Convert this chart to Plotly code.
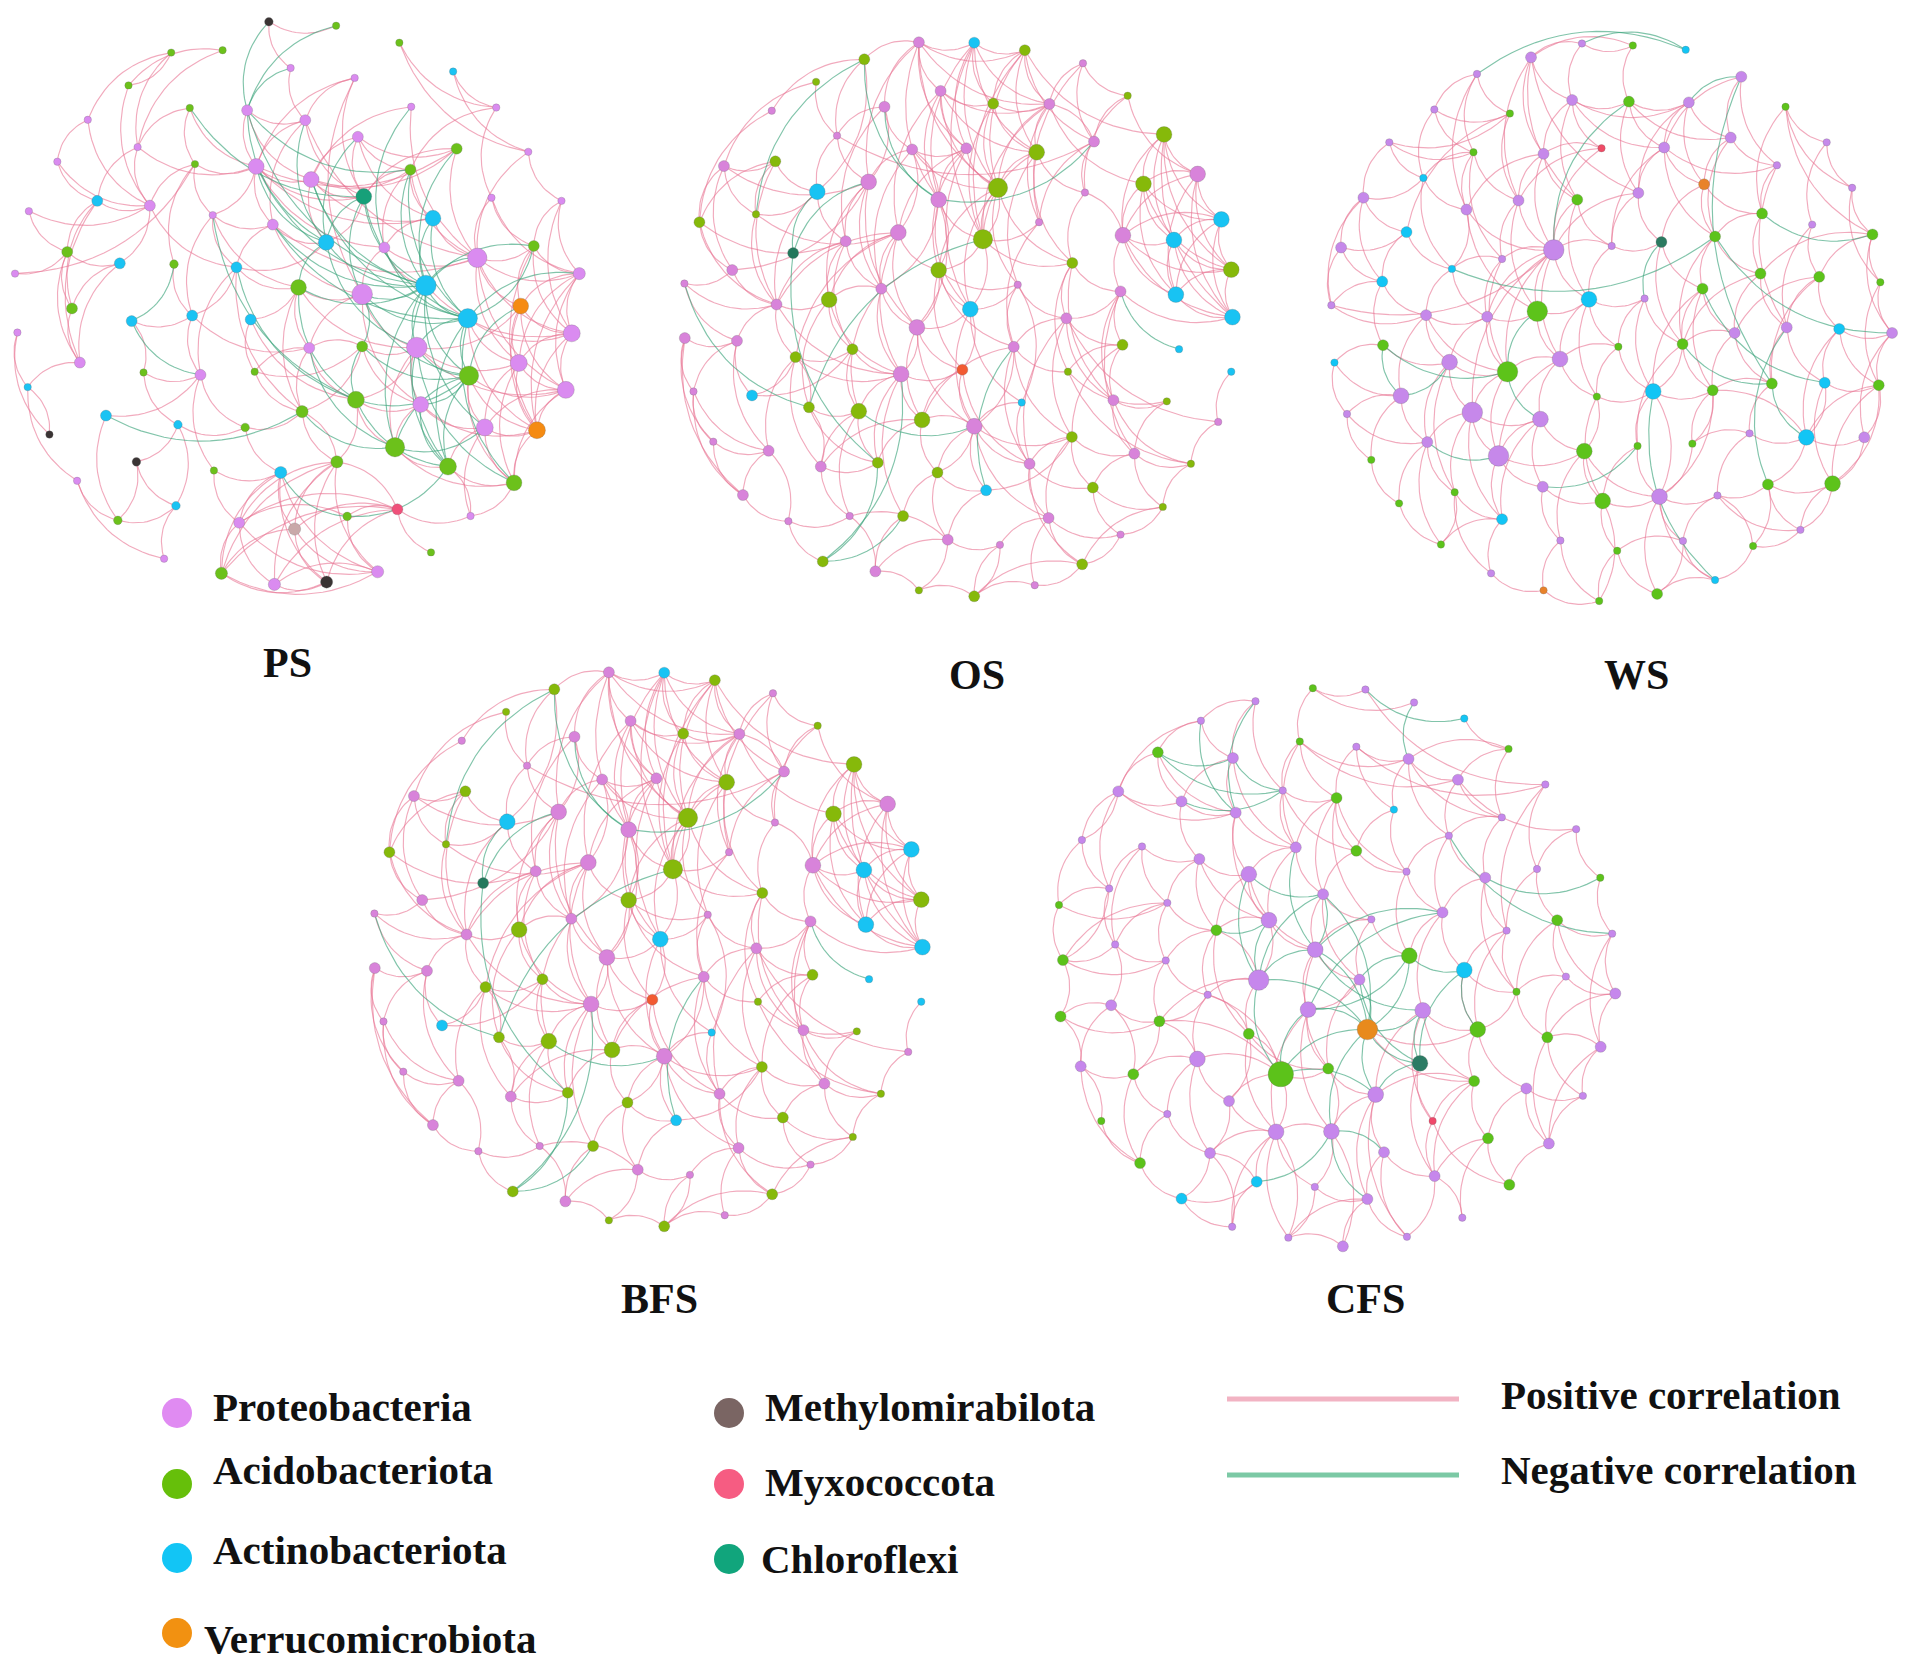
import numpy as np
import plotly.graph_objects as go

# node coordinates are layout units of each network panel (0..1568 across the panel box)
# phylum codes: P Proteobacteria, A Acidobacteriota, C Actinobacteriota, V Verrucomicrobiota,
# M Methylomirabilota, X Myxococcota, F Chloroflexi, W unassigned
# node ids in the edge lists start at 1

ps_x = [680, 850, 1010, 433, 563, 735, 1146, 325, 897, 222,
        480, 625, 1040, 1255, 772, 348, 905, 1155, 145, 493,
        1336, 648, 787, 1038, 920, 1243, 1420, 246, 379, 73,
        538, 1095, 690, 825, 972, 1207, 1350, 170, 303, 440,
        598, 38, 1465, 755, 916, 1077, 1317, 182, 333, 486,
        634, 1183, 44, 1446, 916, 782, 1054, 1312, 202, 363,
        507, 644, 1186, 70, 1431, 900, 764, 1064, 268, 450,
        620, 1226, 1358, 125, 999, 852, 1133, 345, 541, 710,
        1300, 195, 445, 1005, 878, 1190, 298, 605, 745, 1090,
        415, 560, 955, 694, 826]
ps_y = [55, 65, 108, 133, 127, 172, 181, 216, 197, 303,
        273, 279, 270, 272, 304, 372, 346, 376, 409, 415,
        384, 421, 454, 429, 497, 500, 508, 508, 520, 534,
        544, 552, 568, 613, 626, 652, 622, 637, 666, 668,
        676, 692, 692, 727, 744, 722, 774, 780, 812, 798,
        808, 805, 841, 843, 876, 880, 879, 918, 917, 942,
        948, 940, 950, 979, 986, 1011, 1041, 1023, 1051, 1074,
        1081, 1081, 1088, 1099, 1131, 1168, 1180, 1168, 1190, 1195,
        1221, 1216, 1279, 1288, 1306, 1305, 1316, 1322, 1338, 1397,
        1413, 1450, 1446, 1478, 1472]
ps_phylum = list("MAAAAPCAPP" "APPPPPPAPA" "PPPAFPPCPP" "PCPCPPAACA" "CPPAPCVACC"
                 "CCPPAPPPPA" "PAACPAAPCC" "APVMAAAMAC" "APCXAPAPWA" "PAPPM")
ps_degree = [3, 2, 2, 2, 2, 2, 2, 2, 2, 2,
             2, 5, 2, 2, 5, 2, 5, 5, 2, 2,
             2, 9, 9, 5, 9, 2, 2, 5, 5, 2,
             2, 9, 5, 9, 5, 12, 5, 5, 5, 3,
             5, 2, 6, 9, 13, 13, 9, 5, 5, 5,
             5, 12, 2, 10, 5, 5, 13, 10, 5, 2,
             5, 2, 12, 2, 10, 10, 6, 9, 5, 3,
             3, 10, 10, 2, 12, 6, 10, 3, 2, 6,
             9, 2, 3, 5, 3, 2, 3, 5, 6, 2,
             2, 6, 6, 6, 6]
ps_pos = [(1, 2), (1, 6), (3, 21), (3, 14), (7, 14), (7, 21), (4, 10), (4, 16), (5, 16), (5, 8),
          (8, 29), (10, 19), (10, 29), (16, 29), (19, 29), (20, 29), (30, 29), (28, 29), (28, 38), (28, 48),
          (28, 59), (38, 39), (38, 48), (38, 59), (39, 48), (39, 29), (39, 59), (48, 59), (42, 20), (53, 74),
          (59, 64), (64, 82), (82, 91), (87, 78), (87, 83), (78, 83), (69, 87), (69, 61), (78, 70), (83, 70),
          (9, 22), (9, 25), (9, 45), (6, 15), (15, 22), (15, 25), (15, 36), (15, 33), (17, 25), (17, 18),
          (17, 23), (22, 23), (22, 25), (22, 32), (22, 35), (22, 18), (23, 25), (23, 18), (23, 24), (23, 32),
          (24, 32), (24, 36), (26, 36), (26, 43), (33, 45), (33, 36), (34, 25), (35, 46), (35, 36), (36, 37),
          (36, 43), (36, 54), (36, 47), (36, 58), (36, 65), (37, 47), (37, 54), (37, 73), (43, 54), (43, 65),
          (43, 73), (47, 54), (47, 58), (47, 65), (47, 73), (52, 54), (52, 58), (52, 73), (54, 58), (54, 65),
          (54, 73), (57, 58), (57, 65), (57, 47), (58, 65), (58, 72), (58, 73), (63, 65), (63, 73), (63, 81),
          (65, 72), (65, 73), (65, 81), (72, 73), (72, 77), (72, 81), (73, 81), (68, 72), (68, 73), (66, 68),
          (66, 75), (66, 57), (75, 77), (75, 81), (77, 81), (57, 75), (45, 57), (31, 33), (31, 41), (31, 44),
          (41, 44), (41, 34), (44, 45), (44, 56), (56, 67), (56, 66), (40, 50), (50, 41), (20, 31), (20, 22),
          (31, 22), (12, 22), (12, 23), (13, 23), (13, 36), (18, 36), (18, 25), (21, 36), (27, 43), (27, 54),
          (43, 58), (49, 50), (50, 61), (51, 44), (51, 66), (62, 55), (56, 62), (71, 67), (71, 80), (67, 76),
          (67, 55), (61, 79), (79, 80), (60, 61), (60, 49), (41, 67), (33, 34), (23, 34), (45, 68), (68, 75),
          (55, 68), (57, 68), (63, 72), (46, 54), (35, 45), (29, 41), (11, 22), (16, 22), (50, 56), (44, 57),
          (80, 88), (80, 89), (80, 92), (80, 93), (80, 95), (76, 88), (76, 92), (76, 93), (76, 94), (76, 95),
          (76, 89), (84, 88), (84, 92), (84, 94), (84, 95), (84, 89), (88, 92), (88, 93), (88, 94), (89, 92),
          (89, 95), (89, 93), (92, 93), (92, 95), (93, 94), (94, 95), (84, 86), (84, 90), (86, 81), (86, 77),
          (76, 66), (76, 67), (85, 88), (85, 93), (79, 88), (22, 33), (12, 15), (9, 15), (17, 24), (17, 32),
          (24, 35), (24, 25), (32, 36), (32, 35), (26, 37), (21, 27), (14, 26), (14, 24), (27, 37), (43, 47),
          (37, 43), (58, 81), (72, 86), (84, 76), (84, 85), (44, 67), (55, 56), (55, 57), (51, 62), (41, 61),
          (61, 71), (60, 70), (70, 71), (62, 67), (45, 56), (33, 41), (31, 50), (20, 40), (11, 20), (11, 16),
          (8, 4), (16, 28), (19, 28), (30, 38), (42, 38), (53, 64), (74, 64), (82, 87), (83, 91)]
ps_neg = [(2, 12), (1, 12), (6, 12), (11, 25), (12, 24), (13, 35), (12, 34), (12, 46), (25, 34), (25, 45),
          (25, 46), (25, 52), (34, 44), (34, 46), (34, 57), (32, 46), (32, 52), (45, 46), (45, 52), (46, 52),
          (46, 57), (46, 63), (46, 75), (46, 77), (46, 72), (52, 57), (52, 63), (52, 77), (52, 81), (57, 63),
          (57, 77), (63, 77), (63, 75), (55, 66), (55, 45), (66, 63), (68, 63), (68, 77), (43, 52), (37, 46),
          (31, 66), (69, 67), (80, 85), (85, 77), (49, 40), (49, 61), (23, 46), (33, 46), (24, 46), (17, 34),
          (15, 34), (44, 66), (75, 72), (52, 37), (47, 63), (57, 81), (22, 34), (22, 46), (23, 52), (44, 46),
          (45, 63), (36, 46), (35, 52), (18, 46), (24, 52), (66, 77), (67, 75), (55, 63), (41, 66), (56, 75),
          (33, 52)]

os_x = [680, 820, 948, 542, 1095, 420, 735, 868, 1208, 1010,
        593, 308, 473, 663, 800, 1300, 1123, 978, 187, 317,
        1385, 553, 423, 880, 1248, 730, 1100, 268, 125, 984,
        1445, 628, 495, 842, 1196, 1325, 362, 208, 730, 1068,
        1470, 87, 585, 930, 1190, 1330, 320, 453, 810, 1053,
        1473, 675, 88, 220, 920, 1195, 368, 512, 1338, 635,
        790, 1057, 1470, 110, 258, 940, 1172, 1307, 402, 528,
        688, 820, 1437, 1067, 160, 300, 1225, 432, 576, 727,
        960, 1368, 1120, 850, 235, 1297, 350, 505, 640, 1008,
        753, 885, 1190, 437, 570, 1093, 680, 973, 820]
os_y = [107, 108, 127, 150, 160, 207, 230, 262, 242, 263,
        270, 280, 343, 378, 375, 340, 358, 385, 420, 408,
        440, 460, 485, 475, 465, 505, 487, 542, 562, 562,
        555, 588, 610, 605, 595, 607, 640, 683, 683, 665,
        682, 717, 730, 720, 737, 745, 770, 758, 782, 805,
        802, 828, 855, 862, 877, 872, 903, 883, 883, 946,
        935, 940, 940, 990, 1000, 1018, 1012, 1015, 1030, 1040,
        1062, 1078, 1067, 1105, 1117, 1140, 1147, 1180, 1170, 1195,
        1173, 1173, 1233, 1240, 1252, 1282, 1318, 1305, 1305, 1310,
        1365, 1378, 1352, 1420, 1445, 1427, 1493, 1480, 1508]
os_phylum = list("PCAAPAPAAP" "PPPPPAPAPA" "PPCAAPPAAP" "CPPAPCFPAA" "APPPPCPACP"
                 "CPPPPAAACP" "XACPCCPAAA" "APPAPPPPAA" "PAACPAPPAP" "PPPAPAAPA")
os_degree = [5, 5, 5, 5, 2, 2, 5, 5, 2, 5,
             5, 2, 2, 5, 5, 9, 5, 9, 5, 5,
             9, 9, 9, 12, 9, 9, 2, 2, 5, 2,
             9, 9, 5, 12, 9, 9, 5, 5, 9, 5,
             9, 2, 5, 2, 5, 9, 5, 9, 9, 5,
             9, 9, 5, 5, 5, 5, 5, 5, 2, 9,
             5, 2, 2, 2, 5, 2, 5, 2, 5, 9,
             9, 9, 2, 5, 2, 5, 5, 5, 5, 5,
             5, 2, 5, 5, 5, 2, 2, 2, 5, 5,
             5, 2, 2, 5, 5, 5, 2, 2, 5]
os_pos = [(1, 2), (1, 3), (1, 7), (1, 10), (1, 11), (1, 15), (1, 24), (1, 4), (2, 3), (2, 8),
          (2, 10), (2, 15), (2, 18), (2, 24), (2, 34), (3, 10), (3, 18), (3, 24), (3, 34), (3, 8),
          (7, 8), (7, 15), (7, 24), (7, 10), (8, 10), (8, 24), (8, 18), (10, 24), (10, 18), (10, 34),
          (14, 15), (14, 24), (14, 22), (15, 24), (15, 26), (18, 24), (18, 34), (24, 34), (7, 18), (11, 14),
          (11, 13), (13, 17), (13, 22), (5, 17), (5, 30), (9, 17), (9, 27), (17, 27), (17, 10), (4, 12),
          (4, 13), (6, 19), (16, 21), (16, 25), (16, 31), (16, 41), (16, 51), (16, 36), (21, 25), (21, 31),
          (21, 35), (21, 41), (21, 51), (21, 46), (25, 31), (25, 35), (25, 36), (25, 46), (25, 41), (31, 35),
          (31, 36), (31, 41), (31, 46), (31, 51), (35, 36), (35, 41), (35, 46), (35, 51), (36, 41), (36, 46),
          (36, 51), (41, 46), (41, 51), (46, 51), (16, 35), (35, 27), (35, 45), (45, 51), (19, 20), (19, 29),
          (19, 38), (19, 22), (20, 23), (20, 29), (20, 47), (29, 38), (29, 47), (29, 33), (38, 47), (38, 22),
          (23, 33), (23, 47), (28, 47), (28, 32), (22, 33), (22, 43), (22, 48), (33, 43), (33, 48), (32, 43),
          (32, 39), (32, 52), (32, 48), (32, 14), (43, 48), (43, 52), (47, 48), (47, 57), (47, 54), (47, 60),
          (53, 54), (53, 64), (53, 75), (53, 85), (54, 64), (54, 76), (54, 65), (64, 76), (64, 75), (75, 76),
          (75, 85), (76, 85), (65, 57), (65, 58), (57, 60), (57, 58), (58, 60), (58, 70), (60, 61), (60, 70),
          (60, 71), (60, 52), (60, 79), (60, 89), (61, 71), (61, 72), (61, 49), (52, 39), (52, 26), (52, 49),
          (39, 26), (39, 49), (39, 34), (26, 14), (49, 34), (49, 44), (44, 55), (34, 24), (34, 40), (34, 30),
          (40, 45), (40, 50), (50, 45), (50, 55), (50, 56), (50, 67), (45, 56), (56, 67), (56, 62), (62, 68),
          (67, 68), (67, 77), (67, 82), (55, 81), (55, 62), (55, 71), (72, 81), (72, 74), (72, 71), (72, 80),
          (71, 80), (71, 79), (71, 78), (78, 79), (78, 88), (78, 69), (69, 70), (69, 57), (69, 79), (70, 79),
          (74, 81), (74, 83), (74, 77), (74, 90), (77, 83), (77, 86), (77, 82), (81, 90), (81, 96), (81, 83),
          (83, 86), (83, 93), (90, 96), (90, 98), (90, 93), (96, 93), (91, 88), (91, 95), (91, 92), (92, 99),
          (99, 97), (97, 95), (95, 88), (80, 89), (80, 72), (84, 91), (84, 74), (66, 44), (66, 72), (42, 47),
          (43, 26), (22, 11), (23, 4), (24, 44), (26, 34), (32, 60), (52, 71), (72, 55), (63, 73), (50, 73),
          (62, 82), (87, 76), (57, 78), (96, 99), (98, 99), (90, 92), (86, 96), (3, 17), (15, 49), (8, 34),
          (18, 44), (14, 43), (39, 44), (33, 47), (28, 23), (1, 22), (1, 26), (2, 26), (3, 16), (7, 26),
          (7, 32), (10, 25), (10, 30), (15, 39), (15, 32), (18, 27), (18, 40), (24, 39), (24, 40), (24, 49),
          (26, 49), (32, 47), (32, 57), (22, 52), (33, 58), (43, 60), (43, 70), (48, 58), (48, 69), (48, 60),
          (39, 61), (39, 55), (49, 72), (49, 66), (44, 50), (30, 55), (40, 62), (40, 67), (45, 67), (45, 77),
          (50, 74), (50, 81), (56, 74), (55, 74), (66, 81), (61, 81), (72, 90), (72, 84), (80, 91), (80, 84),
          (89, 95), (70, 78), (70, 88), (57, 76), (52, 72), (52, 61), (11, 33), (13, 23), (12, 29), (20, 28),
          (17, 30), (27, 40), (9, 21), (5, 10), (5, 9), (6, 13), (19, 28), (42, 54), (42, 38), (64, 85),
          (85, 87), (87, 94), (87, 88), (97, 91), (99, 92), (98, 96), (93, 86), (82, 86), (73, 82), (68, 77)]
os_neg = [(4, 28), (4, 26), (11, 26), (26, 17), (23, 37), (22, 37), (42, 69), (37, 79), (34, 69), (70, 72),
          (45, 59), (55, 84), (94, 89), (94, 60), (94, 79)]

# the BFS network is drawn with the same layout and links as OS in the source figure
bfs_x, bfs_y, bfs_phylum, bfs_degree = os_x, os_y, os_phylum, os_degree
bfs_pos, bfs_neg = os_pos, os_neg

ws_x = [720, 850, 985, 590, 452, 1127, 695, 840, 993, 343,
        536, 1240, 228, 443, 770, 930, 1100, 1345, 622, 315,
        1218, 1032, 1410, 162, 558, 708, 864, 425, 1180, 272,
        1060, 1308, 1462, 105, 648, 796, 923, 516, 388, 210,
        1176, 1326, 1482, 1028, 738, 880, 80, 606, 322, 478,
        1110, 1243, 1377, 1512, 212, 813, 977, 88, 382, 664,
        530, 1205, 1340, 1478, 258, 758, 902, 1054, 120, 440,
        614, 1148, 1293, 1441, 325, 1002, 862, 182, 507, 726,
        620, 1195, 1360, 395, 918, 773, 1066, 253, 516, 1278,
        665, 810, 978, 1157, 360, 488, 1060, 622, 912, 764]
ws_y = [110, 115, 126, 145, 187, 194, 253, 257, 259, 277,
        287, 270, 360, 385, 375, 373, 348, 360, 389, 450,
        418, 466, 475, 500, 507, 505, 488, 530, 540, 587,
        598, 568, 593, 626, 632, 622, 612, 655, 680, 712,
        692, 700, 714, 730, 757, 755, 772, 787, 797, 801,
        842, 828, 832, 842, 873, 877, 870, 917, 916, 908,
        940, 970, 968, 974, 1001, 1003, 990, 987, 1047, 1043,
        1060, 1096, 1106, 1106, 1118, 1122, 1128, 1163, 1153, 1141,
        1231, 1225, 1223, 1245, 1256, 1267, 1253, 1273, 1313, 1340,
        1367, 1393, 1368, 1381, 1377, 1450, 1467, 1493, 1502, 1520]
ws_phylum = list("PACPPPPAPP" "AAPAXPPPPC" "PVPPPAPPAC" "APAPPPFPCC" "AAAACPPAPP"
                 "PPCPAAACPP" "AACAPACAPP" "PPCPPAAAPA" "PAAAPAPACP" "PAPAAPCVAA")
ws_degree = [2, 2, 2, 5, 2, 5, 5, 5, 5, 2,
             2, 2, 2, 2, 2, 5, 5, 2, 5, 2,
             2, 5, 2, 5, 5, 5, 5, 5, 5, 5,
             5, 2, 5, 5, 13, 2, 5, 2, 2, 5,
             5, 5, 2, 5, 9, 2, 2, 13, 5, 5,
             5, 5, 5, 5, 5, 2, 5, 2, 9, 9,
             13, 5, 5, 5, 9, 2, 9, 5, 2, 13,
             9, 2, 9, 5, 5, 2, 2, 2, 13, 9,
             5, 5, 9, 2, 9, 9, 2, 2, 5, 2,
             2, 2, 2, 2, 2, 2, 2, 2, 5, 2]
ws_pos = [(1, 4), (1, 2), (4, 7), (4, 19), (4, 27), (5, 11), (5, 14), (5, 28), (7, 8), (7, 16),
          (7, 9), (7, 26), (8, 9), (8, 16), (8, 27), (9, 17), (9, 22), (9, 16), (6, 17), (12, 23),
          (12, 33), (17, 21), (17, 22), (16, 22), (16, 21), (16, 27), (18, 23), (18, 32), (10, 11), (10, 14),
          (10, 20), (13, 11), (13, 14), (13, 20), (14, 20), (14, 28), (11, 30), (15, 19), (15, 35), (15, 25),
          (19, 35), (19, 26), (19, 25), (24, 30), (24, 34), (24, 20), (24, 40), (34, 30), (34, 40), (30, 40),
          (20, 28), (28, 35), (25, 35), (26, 35), (27, 35), (36, 35), (36, 37), (27, 37), (37, 44), (22, 29),
          (21, 29), (29, 31), (29, 41), (31, 41), (31, 44), (32, 42), (32, 52), (33, 43), (33, 54), (23, 43),
          (42, 53), (42, 52), (43, 54), (53, 54), (53, 64), (53, 63), (54, 64), (52, 63), (52, 62), (41, 51),
          (44, 51), (44, 57), (51, 57), (51, 62), (51, 68), (35, 45), (35, 48), (35, 60), (35, 61), (35, 70),
          (35, 38), (35, 50), (38, 39), (39, 49), (39, 28), (40, 49), (40, 55), (47, 49), (47, 35), (49, 59),
          (49, 65), (49, 50), (50, 61), (50, 59), (50, 48), (48, 60), (48, 45), (45, 60), (45, 56), (45, 46),
          (46, 57), (46, 56), (56, 66), (56, 60), (55, 59), (55, 58), (58, 69), (58, 65), (59, 61), (59, 70),
          (59, 75), (60, 61), (60, 71), (60, 66), (60, 79), (61, 70), (61, 79), (65, 75), (65, 78), (69, 78),
          (70, 71), (70, 79), (70, 75), (71, 79), (71, 80), (71, 81), (75, 84), (75, 88), (78, 88), (84, 89),
          (79, 89), (79, 80), (79, 81), (80, 86), (80, 66), (80, 85), (81, 86), (81, 91), (86, 92), (86, 85),
          (85, 87), (85, 93), (85, 97), (85, 99), (85, 76), (85, 67), (85, 68), (87, 82), (87, 90), (82, 83),
          (82, 73), (83, 74), (83, 90), (83, 64), (73, 74), (73, 63), (73, 68), (74, 64), (63, 64), (62, 68),
          (67, 68), (67, 57), (67, 77), (77, 86), (76, 68), (89, 96), (89, 95), (96, 98), (98, 100), (91, 100),
          (92, 99), (99, 93), (93, 97), (94, 90), (94, 87), (100, 86), (66, 67), (57, 68), (56, 67), (44, 68),
          (37, 57), (31, 57), (36, 45), (26, 45), (25, 48), (28, 48), (38, 61), (49, 61), (21, 52), (41, 52),
          (12, 29), (6, 21), (1, 7), (33, 41), (64, 83), (97, 99), (95, 84), (4, 25), (4, 26), (7, 19),
          (7, 15), (8, 17), (9, 27), (16, 36), (16, 31), (17, 31), (22, 31), (22, 37), (27, 36), (26, 36),
          (25, 38), (19, 28), (11, 25), (14, 25), (14, 38), (20, 39), (30, 39), (24, 47), (34, 47), (40, 47),
          (39, 50), (38, 50), (45, 66), (46, 67), (44, 67), (41, 57), (42, 62), (42, 51), (53, 73), (63, 83),
          (54, 74), (64, 73), (57, 77), (68, 76), (72, 76), (72, 87), (72, 73), (62, 72), (82, 90), (87, 93),
          (93, 92), (77, 85), (66, 86), (80, 91), (71, 89), (70, 84), (70, 89), (65, 69), (69, 75), (59, 84),
          (75, 95), (88, 95), (84, 96), (91, 98), (92, 100), (97, 94), (94, 82), (90, 83), (12, 18), (6, 16),
          (2, 8), (2, 4), (5, 10), (13, 24), (23, 33), (43, 64), (33, 42)]
ws_neg = [(3, 5), (3, 1), (6, 9), (6, 62), (8, 35), (29, 33), (31, 54), (39, 31), (44, 63), (62, 73),
          (55, 65), (55, 61), (65, 59), (48, 61), (61, 71), (75, 79), (81, 77), (67, 97), (37, 46), (57, 62),
          (52, 82)]

cfs_x = [690, 823, 946, 545, 1073, 407, 657, 800, 1185, 298,
         488, 932, 198, 614, 358, 1057, 1278, 750, 495, 895,
         1168, 106, 258, 1034, 1356, 647, 800, 403, 175, 528,
         927, 1126, 1257, 1417, 48, 322, 716, 1018, 579, 838,
         1308, 1180, 1447, 446, 190, 58, 696, 934, 318, 1073,
         553, 808, 1330, 1205, 1455, 424, 180, 52, 302, 678,
         968, 528, 828, 1107, 1283, 1418, 398, 103, 961, 729,
         236, 609, 1098, 849, 1230, 478, 1373, 322, 155, 993,
         597, 737, 1133, 1287, 870, 430, 253, 998, 1187, 548,
         695, 358, 828, 1068, 486, 628, 928, 766]
cfs_y = [65, 68, 98, 95, 135, 140, 188, 200, 205, 213,
         226, 228, 303, 301, 326, 276, 287, 318, 352, 345,
         363, 415, 430, 405, 390, 432, 440, 459, 527, 494,
         488, 502, 482, 502, 565, 560, 540, 582, 600, 598,
         600, 624, 631, 623, 656, 692, 668, 682, 693, 715,
         738, 737, 730, 765, 769, 772, 796, 822, 833, 806,
         808, 862, 852, 852, 870, 892, 920, 937, 930, 942,
         955, 955, 971, 1002, 988, 1017, 1005, 1047, 1063, 1063,
         1088, 1087, 1103, 1115, 1135, 1137, 1160, 1190, 1210, 1203,
         1215, 1242, 1243, 1286, 1307, 1332, 1330, 1352]
cfs_phylum = list("APPPCPAPAA" "PPPPPPPAPC" "PPPPPPAPPP" "PPPAAPPPPP" "APPAPAPAPC"
                  "PPPAPPPAAP" "PAVAAPPPFA" "AAAPPPPPAX" "PPAPPPAPAC" "PCPPPPPP")
cfs_degree = [2, 2, 2, 2, 2, 2, 2, 2, 2, 5,
              5, 5, 5, 2, 5, 5, 2, 5, 5, 2,
              2, 2, 2, 2, 2, 5, 5, 5, 2, 9,
              2, 5, 2, 2, 2, 2, 5, 5, 9, 2,
              5, 2, 2, 5, 2, 5, 9, 9, 2, 9,
              13, 5, 2, 2, 5, 2, 5, 5, 5, 9,
              9, 5, 13, 9, 5, 5, 9, 5, 9, 5,
              5, 17, 5, 9, 5, 5, 2, 2, 2, 2,
              9, 9, 5, 5, 5, 5, 5, 5, 5, 5,
              2, 5, 5, 2, 2, 2, 2, 5]
cfs_pos = [(1, 2), (1, 3), (2, 17), (8, 17), (4, 6), (4, 11), (4, 14), (6, 10), (6, 13), (6, 11),
           (10, 13), (10, 15), (11, 15), (13, 15), (13, 19), (13, 29), (10, 19), (11, 19), (7, 12), (7, 16),
           (7, 26), (8, 12), (12, 16), (12, 21), (12, 24), (16, 21), (16, 24), (16, 25), (9, 12), (9, 16),
           (21, 32), (21, 24), (24, 32), (25, 33), (25, 34), (17, 33), (17, 42), (14, 27), (14, 26), (18, 26),
           (18, 27), (18, 37), (18, 40), (18, 31), (19, 26), (19, 30), (20, 27), (22, 29), (23, 28), (23, 36),
           (23, 45), (23, 29), (26, 30), (26, 37), (27, 37), (27, 31), (28, 30), (28, 36), (28, 44), (29, 45),
           (30, 39), (30, 44), (31, 38), (32, 38), (32, 42), (33, 42), (33, 41), (34, 43), (41, 43), (41, 53),
           (41, 55), (43, 55), (42, 50), (35, 36), (36, 45), (36, 46), (46, 45), (46, 49), (46, 29), (49, 56),
           (44, 49), (44, 56), (39, 47), (39, 44), (37, 47), (38, 50), (38, 61), (40, 47), (40, 52), (47, 60),
           (47, 52), (50, 54), (50, 64), (54, 65), (53, 65), (53, 55), (55, 66), (66, 65), (66, 77), (65, 77),
           (65, 84), (64, 73), (64, 75), (75, 84), (75, 77), (84, 89), (83, 89), (83, 88), (83, 94), (73, 80),
           (73, 88), (80, 88), (80, 89), (61, 73), (61, 74), (74, 85), (74, 93), (85, 93), (85, 97), (93, 98),
           (93, 97), (98, 96), (96, 91), (91, 82), (82, 81), (81, 72), (81, 90), (81, 86), (81, 91), (82, 70),
           (72, 62), (72, 67), (72, 76), (72, 70), (72, 56), (72, 59), (67, 59), (67, 76), (67, 78), (67, 71),
           (67, 86), (71, 87), (71, 78), (71, 57), (78, 87), (87, 92), (92, 90), (92, 86), (90, 95), (95, 86),
           (86, 76), (76, 62), (62, 56), (57, 58), (58, 59), (57, 68), (68, 58), (68, 71), (59, 56), (57, 45),
           (58, 46), (79, 68), (51, 56), (51, 44), (51, 39), (51, 62), (51, 59), (60, 70), (60, 52), (61, 64),
           (97, 88), (94, 88), (98, 82), (96, 81), (74, 82), (63, 73), (63, 64), (64, 54), (20, 31), (5, 9),
           (9, 21), (1, 7), (47, 70), (52, 70), (44, 62), (36, 49), (15, 28), (22, 13), (7, 18), (7, 14),
           (8, 18), (8, 20), (12, 20), (14, 18), (11, 26), (15, 19), (13, 22), (22, 35), (29, 35), (35, 46),
           (36, 44), (28, 39), (19, 39), (26, 39), (30, 47), (37, 40), (37, 52), (40, 48), (31, 48), (38, 48),
           (24, 38), (24, 31), (42, 54), (32, 54), (42, 64), (53, 54), (41, 54), (55, 65), (43, 66), (66, 84),
           (77, 84), (75, 83), (73, 83), (73, 74), (61, 80), (69, 80), (69, 88), (85, 88), (74, 97), (93, 96),
           (91, 93), (81, 95), (81, 96), (90, 86), (92, 95), (78, 86), (76, 81), (62, 81), (62, 70), (70, 74),
           (60, 82), (60, 81), (56, 67), (49, 59), (57, 59), (45, 49), (68, 87), (79, 87), (71, 59)]
cfs_neg = [(2, 5), (3, 12), (10, 11), (10, 14), (11, 14), (15, 14), (6, 19), (4, 19), (24, 43), (32, 34),
           (63, 51), (63, 47), (63, 37), (63, 60), (63, 52), (63, 61), (63, 48), (63, 69), (63, 74), (63, 72),
           (63, 82), (47, 51), (47, 37), (47, 61), (37, 51), (30, 51), (30, 37), (39, 51), (51, 72), (60, 72),
           (60, 48), (38, 60), (61, 69), (48, 50), (48, 52), (50, 64), (50, 69), (69, 74), (74, 72), (82, 93),
           (90, 82), (85, 82), (44, 39), (26, 47), (38, 47), (52, 69)]

panel_names = ["PS", "OS", "WS", "BFS", "CFS"]
legend_phyla = ["Proteobacteria", "Acidobacteriota", "Actinobacteriota", "Verrucomicrobiota",
                "Methylomirabilota", "Myxococcota", "Chloroflexi"]
legend_links = ["Positive correlation", "Negative correlation"]

W, H = 1914, 1670
U = 1568  # layout units across one panel box

pal_ps = {"P": "#DA8BF0", "A": "#6CC11B", "C": "#1BC3F3", "V": "#F58B12", "M": "#3A3434",
          "X": "#F0507A", "F": "#17A079", "W": "#C9A9A9"}
pal_os = {"P": "#D883DA", "A": "#86B90A", "C": "#18C3F3", "F": "#23785C", "X": "#F25A32"}
pal_ws = {"P": "#C688EA", "A": "#5DC31A", "C": "#12C5F5", "V": "#E8822A", "F": "#2C7A60", "X": "#F04B66"}
pal_cfs = {"P": "#C687EC", "A": "#5CC21A", "C": "#14C5F4", "V": "#E88A1C", "F": "#2C7B64", "X": "#F0486A"}

panels = [
    (ps_x, ps_y, ps_phylum, ps_degree, ps_pos, ps_neg, (0, 0, 620, 620), pal_ps),
    (os_x, os_y, os_phylum, os_degree, os_pos, os_neg, (650, 0, 620, 620), pal_os),
    (ws_x, ws_y, ws_phylum, ws_degree, ws_pos, ws_neg, (1300, 0, 614, 620), pal_ws),
    (bfs_x, bfs_y, bfs_phylum, bfs_degree, bfs_pos, bfs_neg, (340, 630, 620, 620), pal_os),
    (cfs_x, cfs_y, cfs_phylum, cfs_degree, cfs_pos, cfs_neg, (1040, 660, 620, 680), pal_cfs),
]


def arcs(xs, ys, edges, sx, sy, bend=0.28, n=18):
    # curved links, bent to one side like the Gephi layout
    t = np.linspace(0, 1, n)[:, None]
    e = np.asarray(edges) - 1
    px = np.asarray(xs, float) * sx
    py = np.asarray(ys, float) * sy
    x0, y0, x1, y1 = px[e[:, 0]], py[e[:, 0]], px[e[:, 1]], py[e[:, 1]]
    cx = (x0 + x1) / 2 - (y1 - y0) * bend
    cy = (y0 + y1) / 2 + (x1 - x0) * bend
    bx = (1 - t) ** 2 * x0 + 2 * (1 - t) * t * cx + t ** 2 * x1
    by = (1 - t) ** 2 * y0 + 2 * (1 - t) * t * cy + t ** 2 * y1
    gap = np.full((1, len(e)), np.nan)
    bx = np.vstack([bx, gap]) / sx
    by = np.vstack([by, gap]) / sy
    return bx.T.ravel(), by.T.ravel()


fig = go.Figure()
layout = {}
pad = 30
for i, (xs, ys, ph, deg, pos, neg, crop, pal) in enumerate(panels, start=1):
    x0, y0, w, h = crop
    sx, sy = w / U, h / U
    left, right = max(0, x0 - pad), min(W, x0 + w + pad)
    top, bot = max(0, y0 - pad), min(H, y0 + h + pad)
    xa = "x" if i == 1 else f"x{i}"
    ya = "y" if i == 1 else f"y{i}"
    layout["xaxis" if i == 1 else f"xaxis{i}"] = dict(
        domain=[left / W, right / W], range=[(left - x0) / sx, (right - x0) / sx],
        visible=False, fixedrange=True, anchor=ya)
    layout["yaxis" if i == 1 else f"yaxis{i}"] = dict(
        domain=[1 - bot / H, 1 - top / H], range=[(bot - y0) / sy, (top - y0) / sy],
        visible=False, fixedrange=True, anchor=xa)

    ex, ey = arcs(xs, ys, pos, sx, sy)
    fig.add_trace(go.Scatter(x=ex, y=ey, mode="lines", xaxis=xa, yaxis=ya,
                             line=dict(color="rgba(232,118,148,0.62)", width=1.15),
                             hoverinfo="skip", showlegend=False))
    ex, ey = arcs(xs, ys, neg, sx, sy)
    fig.add_trace(go.Scatter(x=ex, y=ey, mode="lines", xaxis=xa, yaxis=ya,
                             line=dict(color="rgba(62,165,125,0.65)", width=1.15),
                             hoverinfo="skip", showlegend=False))
    fig.add_trace(go.Scatter(
        x=xs, y=ys, mode="markers", xaxis=xa, yaxis=ya, cliponaxis=False,
        marker=dict(color=[pal[p] for p in ph], size=[5 + 1.2 * d for d in deg],
                    line=dict(color="rgba(110,110,110,0.45)", width=0.6), opacity=1),
        hoverinfo="skip", showlegend=False))

# overlay axis in page pixels for labels and legend
layout["xaxis6"] = dict(domain=[0, 1], range=[0, W], visible=False, fixedrange=True, anchor="y6")
layout["yaxis6"] = dict(domain=[0, 1], range=[H, 0], visible=False, fixedrange=True, anchor="x6")

serif = "Liberation Serif, Times New Roman, serif"
label_xy = [(287, 663), (977, 675), (1636, 675), (659, 1299), (1365, 1299)]
for name, (lx, ly) in zip(panel_names, label_xy):
    fig.add_annotation(x=lx, y=ly, xref="x6", yref="y6", text=f"<b>{name}</b>", showarrow=False,
                       font=dict(family=serif, size=42, color="#111111"))

legend_colors = ["#E08BF2", "#66BF0A", "#12C5F5", "#F29111", "#7A6563", "#F65C82", "#11A57C"]
dot_xy = [(177, 1413), (177, 1484), (177, 1558), (177, 1633), (729, 1413), (729, 1484), (729, 1559)]
text_xy = [(211, 1407), (211, 1470), (211, 1550), (202, 1639), (763, 1407), (763, 1482), (759, 1559)]
fig.add_trace(go.Scatter(x=[p[0] for p in dot_xy], y=[p[1] for p in dot_xy], mode="markers",
                         xaxis="x6", yaxis="y6", cliponaxis=False,
                         marker=dict(color=legend_colors, size=30, line=dict(width=0)),
                         hoverinfo="skip", showlegend=False))
for name, (tx, ty) in zip(legend_phyla, text_xy):
    fig.add_annotation(x=tx, y=ty, xref="x6", yref="y6", text=f"<b>{name}</b>", showarrow=False,
                       xanchor="left", yanchor="middle",
                       font=dict(family=serif, size=41, color="#111111"))

link_colors = ["#F2B3C3", "#7CC9A5"]
for name, col, ly, ty in zip(legend_links, link_colors, [1399, 1475], [1395, 1470]):
    fig.add_trace(go.Scatter(x=[1227, 1459], y=[ly, ly], mode="lines", xaxis="x6", yaxis="y6",
                             line=dict(color=col, width=5), hoverinfo="skip", showlegend=False))
    fig.add_annotation(x=1499, y=ty, xref="x6", yref="y6", text=f"<b>{name}</b>", showarrow=False,
                       xanchor="left", yanchor="middle",
                       font=dict(family=serif, size=41, color="#111111"))

# transparent plot areas so the full-page overlay does not hide the networks
fig.update_layout(width=W, height=H, margin=dict(l=0, r=0, t=0, b=0),
                  paper_bgcolor="white", plot_bgcolor="rgba(0,0,0,0)", **layout)

fig.write_html("out.html", config={"displayModeBar": False},
               post_script="document.body.style.margin='0';")
